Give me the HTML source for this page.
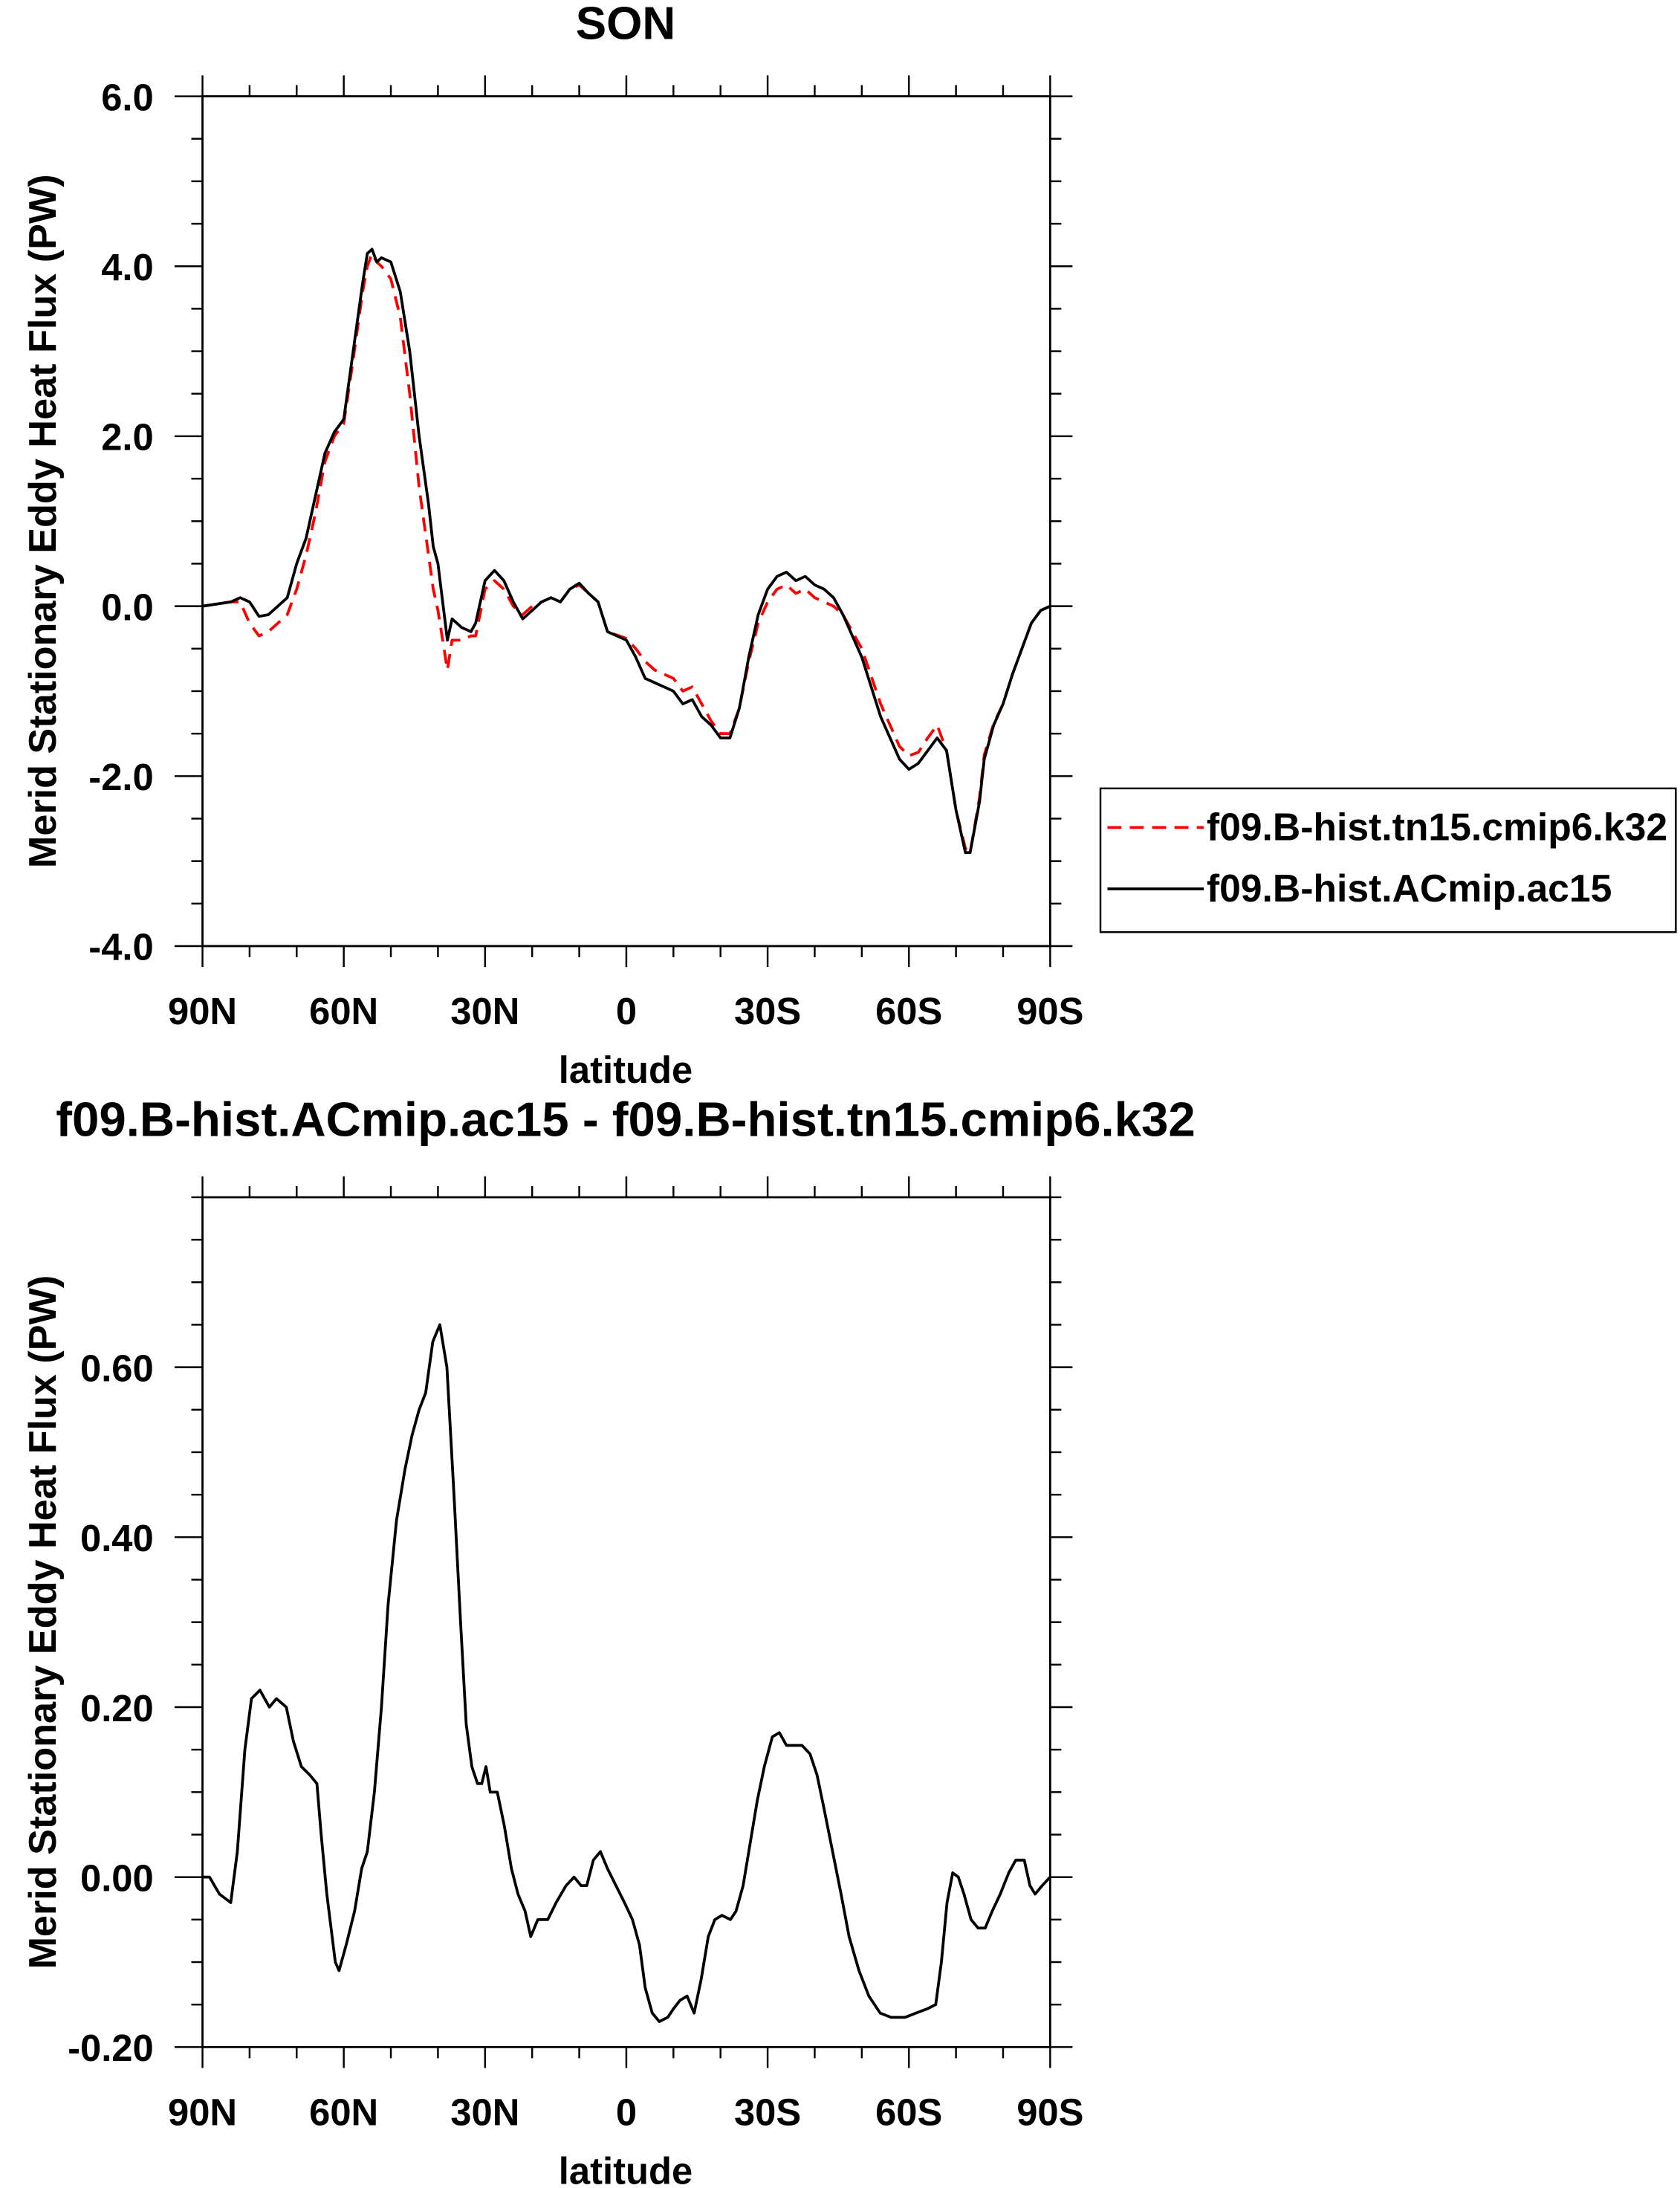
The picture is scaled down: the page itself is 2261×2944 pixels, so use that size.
<!DOCTYPE html>
<html><head><meta charset="utf-8"><style>
html,body{margin:0;padding:0;background:#fff;}
svg{display:block;}
text{font-family:"Liberation Sans",Arial,sans-serif;font-weight:bold;fill:#000;}
</style></head><body>
<svg id="chart" width="2261" height="2944" viewBox="0 0 1203 1568" preserveAspectRatio="none" xmlns="http://www.w3.org/2000/svg">
<g id="topPanel"></g>
<g id="botPanel"></g>
<g id="legend">
  <rect x="788" y="565" width="412" height="103" fill="#fff" stroke="#000" stroke-width="1.3"/>
  <line x1="793" y1="593" x2="862" y2="593" stroke="#ff0000" stroke-width="2" stroke-dasharray="10,6"/>
  <text x="864" y="602" font-size="27.5">f09.B-hist.tn15.cmip6.k32</text>
  <line x1="793" y1="637" x2="862" y2="637" stroke="#000" stroke-width="2"/>
  <text x="864" y="646" font-size="27.5">f09.B-hist.ACmip.ac15</text>
</g>
</svg>
<script>
const latTop = [90,84,82,80,78,76,74,72,70,68,66,64,62,60,58,56,55,54,53,52,50,48,46,44,42,41,40,38,37,35,33,32,30,28,26,24,22,20,18,16,14,12,10,8,6,4,0,-2,-4,-6,-8,-10,-12,-14,-16,-18,-20,-22,-24,-26,-28,-30,-32,-34,-36,-38,-40,-42,-44,-46,-50,-54,-58,-60,-62,-64,-66,-68,-70,-72,-73,-75,-76,-78,-80,-82,-84,-86,-88,-90];
const ac15 = [0,0.05,0.1,0.05,-0.12,-0.1,0,0.1,0.5,0.8,1.3,1.8,2.05,2.2,3.0,3.8,4.15,4.2,4.05,4.1,4.05,3.7,3.0,2.0,1.2,0.7,0.5,-0.4,-0.15,-0.25,-0.3,-0.2,0.3,0.42,0.3,0.05,-0.15,-0.05,0.05,0.1,0.05,0.2,0.27,0.15,0.05,-0.3,-0.4,-0.6,-0.85,-0.9,-0.95,-1.0,-1.15,-1.1,-1.3,-1.4,-1.55,-1.55,-1.2,-0.6,-0.1,0.2,0.35,0.4,0.3,0.35,0.25,0.2,0.1,-0.1,-0.6,-1.3,-1.8,-1.92,-1.85,-1.7,-1.55,-1.7,-2.4,-2.9,-2.9,-2.3,-1.8,-1.4,-1.15,-0.8,-0.5,-0.2,-0.05,0];
const k32 = [0,0.05,0.05,-0.2,-0.35,-0.3,-0.2,-0.1,0.2,0.6,1.1,1.7,2.0,2.15,2.9,3.7,4.0,4.15,4.05,4.0,3.85,3.4,2.5,1.4,0.6,0.2,-0.05,-0.75,-0.4,-0.4,-0.35,-0.35,0.2,0.3,0.2,0.0,-0.1,0.0,0.05,0.1,0.05,0.2,0.25,0.15,0.05,-0.3,-0.38,-0.5,-0.65,-0.75,-0.8,-0.85,-1.0,-0.95,-1.15,-1.35,-1.5,-1.5,-1.2,-0.65,-0.2,0.05,0.2,0.25,0.15,0.2,0.1,0.05,0.0,-0.1,-0.5,-1.15,-1.65,-1.76,-1.72,-1.55,-1.4,-1.7,-2.4,-2.85,-2.9,-2.25,-1.75,-1.38,-1.15,-0.8,-0.5,-0.2,-0.05,0];
const latDiff = [90,88.5,86.4,84,82.6,81,79.6,77.8,75.8,74.3,72.2,70.7,69,67.2,65.7,64.8,63.6,61.8,61,59.5,57.7,56.2,55,53.5,52,50.6,48.8,47,45.5,44,42.6,41.1,39.6,38.1,36.6,35.2,34,32.8,31.6,30.7,29.8,28.9,27.4,25.9,24.4,23,21.5,20.3,18.8,16.7,14.9,12.8,11.1,9.6,8.4,7,5.5,4,2.2,0.4,-1.3,-2.8,-4,-5.5,-7,-8.8,-10,-11.4,-12.9,-14.4,-15.9,-17.4,-18.8,-20.3,-22.1,-23.3,-24.8,-26.3,-27.8,-29.3,-31,-32.5,-34,-35.5,-37.3,-39,-40.5,-42,-43.8,-45.6,-47.3,-49.4,-51.5,-53.9,-56.2,-59.2,-61.5,-63.9,-65.7,-66.9,-68.1,-69.3,-70.5,-71.7,-73.2,-74.7,-76.2,-77.7,-79.4,-81.2,-82.7,-84.5,-85.7,-86.8,-88.3,-90];
const diff = [0,0,-0.02,-0.03,0.03,0.15,0.21,0.22,0.2,0.21,0.2,0.16,0.13,0.12,0.11,0.05,-0.02,-0.1,-0.11,-0.08,-0.04,0.01,0.03,0.1,0.2,0.32,0.42,0.48,0.52,0.55,0.57,0.63,0.65,0.6,0.45,0.3,0.18,0.13,0.11,0.11,0.13,0.1,0.1,0.06,0.01,-0.02,-0.04,-0.07,-0.05,-0.05,-0.03,-0.01,0,-0.01,-0.01,0.02,0.03,0.01,-0.01,-0.03,-0.05,-0.08,-0.13,-0.16,-0.17,-0.165,-0.155,-0.145,-0.14,-0.16,-0.12,-0.07,-0.05,-0.045,-0.05,-0.04,-0.01,0.04,0.09,0.13,0.165,0.17,0.155,0.155,0.155,0.145,0.12,0.08,0.03,-0.02,-0.07,-0.11,-0.14,-0.16,-0.165,-0.165,-0.16,-0.155,-0.15,-0.1,-0.03,0.005,0,-0.02,-0.05,-0.06,-0.06,-0.04,-0.02,0.005,0.02,0.02,-0.01,-0.02,-0.01,0];
const xTickVals = [90,60,30,0,-30,-60,-90];
const xTickLabels = ["90N","60N","30N","0","30S","60S","90S"];
const topYTicks = [6,4,2,0,-2,-4];
const topYLabels = ["6.0","4.0","2.0","0.0","-2.0","-4.0"];
const botYTicks = [0.6,0.4,0.2,0,-0.2];
const botYLabels = ["0.60","0.40","0.20","0.00","-0.20"];

const NS="http://www.w3.org/2000/svg";
function mk(parent,tag,attrs){const e=document.createElementNS(NS,tag);for(const k in attrs)e.setAttribute(k,attrs[k]);parent.appendChild(e);return e;}
const X0=145,X1=752;
function xs(lat){return X0+(90-lat)/180*(X1-X0);}

function panel(g,y0,y1,ymin,ymax,yTicks,yLabels,minorStep,name){
  const ys=v=>y1-(v-ymin)/(ymax-ymin)*(y1-y0);
  const fr=mk(g,'rect',{x:X0,y:y0,width:X1-X0,height:y1-y0,fill:'none',stroke:'#000','stroke-width':1.5});
  
  
  for(let lat=90;lat>=-90;lat-=10){
    const L=(lat%30===0)?15:8,x=xs(lat);
    const t1=mk(g,'line',{x1:x,x2:x,y1:y0,y2:y0-L,stroke:'#000','stroke-width':1.3});
    
    
    const t2=mk(g,'line',{x1:x,x2:x,y1:y1,y2:y1+L,stroke:'#000','stroke-width':1.3});
    
    
  }
  xTickVals.forEach((v,i)=>{
    const t=mk(g,'text',{x:xs(v),y:y1+56,'font-size':27,'text-anchor':'middle'});
    t.textContent=xTickLabels[i];
    
    
  });
  const n=Math.round((ymax-ymin)/minorStep);
  for(let i=0;i<=n;i++){
    const v=ymin+i*minorStep,y=ys(v);
    const major=yTicks.some(t=>Math.abs(t-v)<1e-6);
    const L=major?20:8;
    const a=mk(g,'line',{x1:X0,x2:X0-L,y1:y,y2:y,stroke:'#000','stroke-width':1.3});
    
    
    const b=mk(g,'line',{x1:X1,x2:X1+(major?16:8),y1:y,y2:y,stroke:'#000','stroke-width':1.3});
    
    
  }
  yTicks.forEach((v,i)=>{
    const t=mk(g,'text',{x:X0-35,y:ys(v)+10,'font-size':27,'text-anchor':'end'});
    t.textContent=yLabels[i];
    
    
  });
  const xt=mk(g,'text',{x:448,y:y1+98,'font-size':27,'text-anchor':'middle'});
  xt.textContent='latitude';
  
  
  const yc=(y0+y1)/2;
  const yt=mk(g,'text',{x:40,y:yc,'font-size':27.8,'text-anchor':'middle',transform:'rotate(-90 40 '+yc+')'});
  yt.textContent='Merid Stationary Eddy Heat Flux (PW)';
  
  
  return ys;
}
function drawLine(g,lats,vals,ys,color,dash,nm){
  const d=lats.map((l,i)=>(i?'L':'M')+xs(l).toFixed(2)+' '+ys(vals[i]).toFixed(2)).join(' ');
  const p=mk(g,'path',{d:d,fill:'none',stroke:color,'stroke-width':2,'stroke-linejoin':'round'});
  if(dash)p.setAttribute('stroke-dasharray',dash);
  
  
}
const topG=document.getElementById('topPanel'),botG=document.getElementById('botPanel');
const title1=mk(topG,'text',{x:448,y:28,'font-size':33,'text-anchor':'middle'});title1.textContent='SON';


const ysT=panel(topG,69,678,-4,6,topYTicks,topYLabels,0.5,'top');
drawLine(topG,latTop,k32,ysT,'#ff0000','10,6','series-k32');
drawLine(topG,latTop,ac15,ysT,'#000',null,'series-ac15');
const title2=mk(botG,'text',{x:448,y:814,'font-size':34.8,'text-anchor':'middle'});title2.textContent='f09.B-hist.ACmip.ac15 - f09.B-hist.tn15.cmip6.k32';


const ysB=panel(botG,858,1467,-0.2,0.8,botYTicks,botYLabels,0.05,'bottom');
drawLine(botG,latDiff,diff,ysB,'#000',null,'series-difference');
</script>
</body></html>
